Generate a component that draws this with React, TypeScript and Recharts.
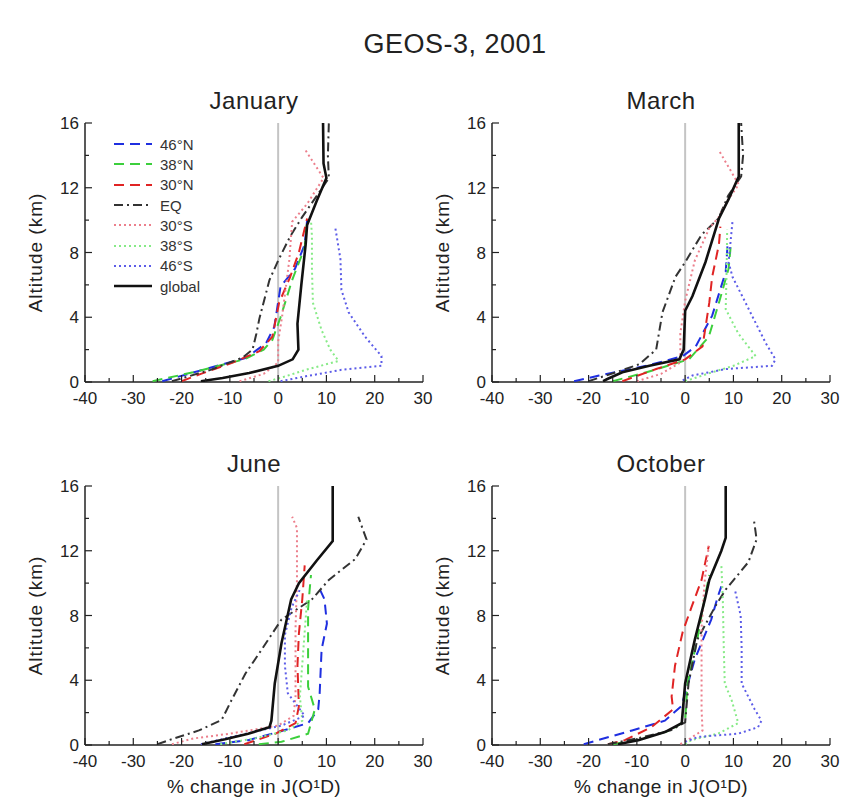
import React from 'react';
import { ScatterChart, Scatter, XAxis, YAxis, ReferenceLine, Legend } from 'recharts';

type Pt = [number, number]; // [% change, altitude km]

const xTicks = [-40, -35, -30, -25, -20, -15, -10, -5, 0, 5, 10, 15, 20, 25, 30];
const yTicks = [0, 2, 4, 6, 8, 10, 12, 14, 16];
const seriesNames = ['46°N', '38°N', '30°N', 'EQ', '30°S', '38°S', '46°S', 'global'];

// January
const jan46N: Pt[] = [[-24, 0.05], [-15.6, 0.75], [-6.6, 1.5], [-2.5, 2.4], [-0.8, 3.4], [0.5, 5.9], [3.5, 7], [5.5, 8.5], [6, 10]];
const jan38N: Pt[] = [[-26, 0.05], [-17.6, 0.6], [-7, 1.4], [-3, 2], [-1.2, 2.6], [0.5, 4], [2.9, 6.3], [5.5, 8.3], [6, 10]];
const jan30N: Pt[] = [[-20, 0.05], [-16, 0.5], [-9.4, 1.2], [-3.9, 1.9], [-1.2, 2.8], [0.2, 4.9], [2.5, 6.5], [4.3, 8], [6, 10.1]];
const janEQ: Pt[] = [[-22, 0.05], [-19.7, 0.25], [-14, 0.75], [-7.4, 1.5], [-5.3, 2], [-4.5, 3], [-3.9, 3.9], [-1.8, 6.3], [0, 7.5], [2.5, 9], [5, 10.2], [8, 11.5], [10.5, 12.6], [10.3, 14], [10.5, 16]];
const jan30S: Pt[] = [[-8, 0.05], [-3, 0.5], [0, 1.2], [0, 2.5], [0.8, 4], [2.3, 7.5], [2.9, 9.9], [6, 11], [9.4, 12.6], [5.7, 14.3]];
const jan38S: Pt[] = [[-2, 0.05], [1, 0.3], [5.7, 0.75], [12.5, 1.3], [10.8, 2], [9, 3.2], [7.2, 4.9], [7, 7], [7, 9], [6.8, 10]];
const jan46S: Pt[] = [[0.5, 0.05], [5.7, 0.35], [13.1, 0.75], [21.4, 1], [21.4, 1.6], [18, 2.8], [14.6, 4.3], [13.1, 5.7], [12.9, 7.6], [11.8, 9.6]];
const janGlobal: Pt[] = [[-16, 0.05], [-11.5, 0.25], [-6, 0.55], [0, 1], [3, 1.4], [4.2, 2], [4, 3.6], [4.8, 6], [5.7, 8.5], [6, 9.7], [8, 11.2], [10, 12.6], [9.4, 13.5], [9.3, 16]];

// March
const mar46N: Pt[] = [[-23, 0.05], [-17.8, 0.4], [-8, 1], [-0.5, 1.6], [2.2, 2.2], [5.6, 4.1], [8.4, 6.8], [8.8, 8.5]];
const mar38N: Pt[] = [[-15, 0.05], [-8, 0.6], [0.8, 1.4], [4.9, 2.8], [7, 4.9], [9, 7], [9.5, 8.6]];
const mar30N: Pt[] = [[-13, 0.05], [-6, 0.8], [0, 1.4], [3.6, 2.2], [5, 4.9], [5.6, 6.5], [7, 8.5], [7.3, 9.6]];
const marEQ: Pt[] = [[-20, 0.05], [-14.3, 0.6], [-9.5, 1.1], [-6, 2], [-4.7, 4.3], [-2, 6.5], [0, 7.4], [3.4, 9.1], [6.9, 10.1], [8.9, 11.5], [11.6, 12.7], [12, 14], [11.6, 16]];
const mar30S: Pt[] = [[-10, 0.05], [-5, 0.5], [-1, 1.2], [-1, 3], [0, 5], [2, 7.5], [5, 9.5], [7, 10.2], [9, 11.3], [11.1, 12.2], [7, 14.3]];
const mar38S: Pt[] = [[0, 0.05], [5.6, 0.6], [10, 1], [14.6, 1.6], [11, 3], [8.4, 4.5], [8.6, 7], [8.7, 9.4]];
const mar46S: Pt[] = [[-0.5, 0.1], [1.5, 0.4], [8.4, 0.8], [18, 1], [18.7, 1.4], [16.7, 2.4], [12.5, 4.9], [9.8, 6.5], [9, 7.4], [9.8, 9.9]];
const marGlobal: Pt[] = [[-17, 0.05], [-16, 0.2], [-13, 0.6], [-7.4, 1], [-1.2, 1.4], [-0.3, 2], [0, 4.4], [1.5, 5.3], [4.2, 7.4], [7, 10.1], [9, 11.3], [11.1, 12.7], [11.1, 16]];

// June
const jun46N: Pt[] = [[-13, 0.05], [-6.2, 0.3], [0, 0.8], [6.2, 1.35], [8.3, 2.2], [8.6, 3.2], [9, 5.9], [10.1, 7.5], [9.6, 9], [8.5, 9.7]];
const jun38N: Pt[] = [[-4, 0.05], [0.7, 0.2], [6.2, 0.7], [7.6, 2.2], [6.2, 3.6], [6.2, 5.9], [6.2, 8.4], [6.5, 9.5], [6.8, 10.5]];
const jun30N: Pt[] = [[-7, 0.05], [-0.5, 0.7], [3.6, 1.35], [4.3, 2.4], [4, 4.9], [4.3, 6.9], [5, 9], [5.5, 11.1]];
const junEQ: Pt[] = [[-25, 0.05], [-22.6, 0.3], [-16.4, 0.9], [-11.7, 1.55], [-9.6, 2.8], [-6.8, 4.4], [-3.4, 5.9], [0.7, 7.75], [7, 9], [10.5, 10.2], [16, 11.5], [18.3, 12.7], [16.6, 14.1]];
const jun30S: Pt[] = [[-22, 0.05], [-17.6, 0.4], [-10, 0.7], [0, 1.2], [3.2, 1.8], [3.6, 3], [3.6, 5], [3.6, 7.2], [3.9, 10.2], [3.9, 13.4], [2.9, 14.1]];
const jun38S: Pt[] = [[-12, 0.05], [-5, 0.4], [2, 0.9], [5, 1.5], [4.5, 3], [5, 5], [5.5, 7], [6, 9]];
const jun46S: Pt[] = [[-16, 0.05], [-9.6, 0.5], [0.7, 1.2], [5.5, 1.8], [2, 3.2], [1.4, 4.9], [1.4, 6.8], [2.8, 8.5], [4.5, 9.6]];
const junGlobal: Pt[] = [[-15.8, 0.05], [-11, 0.35], [-6.2, 0.7], [-1.8, 1.1], [-1.4, 1.5], [-0.7, 3.8], [0.7, 6.3], [2.7, 9], [4.3, 10], [8, 11.4], [11.3, 12.6], [11.3, 16]];

// October
const oct46N: Pt[] = [[-21, 0.05], [-11, 0.9], [-4.2, 1.5], [-0.8, 2.4], [0.6, 3.8], [2, 5.3], [5.4, 7.75], [6.8, 9.2], [7.5, 9.8]];
const oct38N: Pt[] = [[-15, 0.05], [-10, 0.3], [-3, 0.9], [0, 1.5], [0.5, 3.8], [2.5, 6.5], [4, 9], [5, 10.5]];
const oct30N: Pt[] = [[-16, 0.05], [-12.5, 0.3], [-7, 1.1], [-2.5, 2.2], [-2.8, 3], [-2.1, 4.9], [-0.5, 7], [1.3, 8.5], [3.4, 10.2], [4.9, 12.3]];
const octEQ: Pt[] = [[-16, 0.05], [-10, 0.4], [-3, 0.9], [0, 1.4], [0.7, 3.8], [2.5, 6.5], [6.3, 8.6], [8.4, 9.6], [13.1, 11.3], [14.8, 12.7], [14.2, 14]];
const oct30S: Pt[] = [[-1, 0.05], [1, 0.4], [3.6, 0.9], [3.4, 2.2], [3.4, 4.5], [3.4, 7.2], [4, 10], [4.9, 12.3]];
const oct38S: Pt[] = [[0, 0.05], [1.3, 0.3], [6.8, 0.7], [11, 1.35], [9.6, 2.8], [8.2, 3.8], [8, 6], [7.8, 9], [7.5, 11.1]];
const oct46S: Pt[] = [[0, 0.2], [2.7, 0.5], [11, 0.7], [15.1, 1.1], [15.8, 1.5], [14.4, 2.2], [11.7, 3.8], [11.7, 6], [11.5, 8], [10.3, 9.6]];
const octGlobal: Pt[] = [[-13.9, 0.05], [-9.7, 0.3], [-4.2, 0.8], [-0.7, 1.35], [0, 3.8], [2, 6.5], [4.1, 9], [5, 10.2], [7.5, 12], [8.4, 12.8], [8.4, 16]];

const styles = [
  { color: '#1f2fe0', dash: '10 6', width: 2 },
  { color: '#3ccf3c', dash: '10 6', width: 2 },
  { color: '#e02424', dash: '10 6', width: 2 },
  { color: '#333333', dash: '9 4 2 4', width: 2 },
  { color: '#ec7f8c', dash: '2 3', width: 2 },
  { color: '#86ea86', dash: '2 3', width: 2 },
  { color: '#5c5ce8', dash: '2 3', width: 2 },
  { color: '#111111', dash: undefined, width: 2.6 },
];

const AXIS = '#222';
const FONT = '"Liberation Sans", Arial, sans-serif';
const PLOT_W = 338;
const PLOT_H = 259;
const ML = 75;
const MT = 10;
const MR = 12;
const XH = 60;

const toPts = (a: Pt[]) => a.map(([x, y]) => ({ x, y }));

function BottomTick(p: any) {
  const v = p.payload.value;
  const major = v % 10 === 0;
  return (
    <g>
      <line x1={p.x} x2={p.x} y1={p.y} y2={p.y - (major ? 7 : 4)} stroke={AXIS} strokeWidth={1.2} />
      {major && (
        <text x={p.x} y={p.y + 22} textAnchor="middle" fontSize={17} fill="#222">{v}</text>
      )}
    </g>
  );
}

function TopTick(p: any) {
  const major = p.payload.value % 10 === 0;
  return <line x1={p.x} x2={p.x} y1={p.y} y2={p.y + (major ? 7 : 4)} stroke={AXIS} strokeWidth={1.2} />;
}

function LeftTick(p: any) {
  const v = p.payload.value;
  const major = v % 4 === 0;
  return (
    <g>
      <line x1={p.x} x2={p.x + (major ? 7 : 4)} y1={p.y} y2={p.y} stroke={AXIS} strokeWidth={1.2} />
      {major && (
        <text x={p.x - 6} y={p.y + 6} textAnchor="end" fontSize={17} fill="#222">{v}</text>
      )}
    </g>
  );
}

function RightTick(p: any) {
  const major = p.payload.value % 4 === 0;
  return <line x1={p.x} x2={p.x - (major ? 7 : 4)} y1={p.y} y2={p.y} stroke={AXIS} strokeWidth={1.2} />;
}

function LegendBox() {
  return (
    <div style={{ fontFamily: FONT, fontSize: 15, color: '#333' }}>
      {seriesNames.map((n, i) => (
        <div key={n} style={{ display: 'flex', alignItems: 'center', height: 20.3 }}>
          <svg width={40} height={10}>
            <line x1={1} x2={39} y1={5} y2={5} stroke={styles[i].color} strokeWidth={styles[i].width}
              strokeDasharray={styles[i].dash} />
          </svg>
          <span style={{ marginLeft: 7 }}>{n}</span>
        </div>
      ))}
    </div>
  );
}

function Panel({ title, series, plotLeft, plotTop, legend, xLabel }: {
  title: string; series: Pt[][]; plotLeft: number; plotTop: number; legend?: boolean; xLabel?: boolean;
}) {
  const axisLine = { stroke: AXIS, strokeWidth: 1.5 };
  return (
    <>
      <div style={{ position: 'absolute', left: plotLeft, top: plotTop - 36, width: PLOT_W, textAlign: 'center', fontSize: 24, letterSpacing: 0.5, color: '#222' }}>
        {title}
      </div>
      <div style={{ position: 'absolute', left: plotLeft - ML, top: plotTop - MT }}>
        <ScatterChart width={ML + PLOT_W + MR} height={MT + PLOT_H + XH} margin={{ top: MT, right: MR, left: 0, bottom: 0 }}>
          <XAxis xAxisId="b" type="number" dataKey="x" domain={[-40, 30]} ticks={xTicks} interval={0}
            allowDataOverflow tickLine={false} tickSize={0} tickMargin={0} height={XH} axisLine={axisLine}
            tick={(p: any) => <BottomTick {...p} />}
            label={xLabel ? { value: '% change in J(O¹D)', position: 'insideBottom', offset: 12, fontSize: 19, fill: '#222', style: { letterSpacing: 0.4 } } : undefined} />
          <XAxis xAxisId="t" orientation="top" type="number" domain={[-40, 30]} ticks={xTicks} interval={0}
            allowDataOverflow tickLine={false} tickSize={0} tickMargin={0} height={0} axisLine={axisLine}
            tick={(p: any) => <TopTick {...p} />} />
          <YAxis yAxisId="l" type="number" dataKey="y" domain={[0, 16]} ticks={yTicks} interval={0}
            allowDataOverflow tickLine={false} tickSize={0} tickMargin={0} width={ML} axisLine={axisLine}
            tick={(p: any) => <LeftTick {...p} />}
            label={{ value: 'Altitude (km)', angle: -90, position: 'insideLeft', offset: 25, fontSize: 19, fill: '#222', style: { textAnchor: 'middle', letterSpacing: 1 } }} />
          <YAxis yAxisId="r" orientation="right" type="number" domain={[0, 16]} ticks={yTicks} interval={0}
            allowDataOverflow tickLine={false} tickSize={0} tickMargin={0} width={0} axisLine={axisLine}
            tick={(p: any) => <RightTick {...p} />} />
          <ReferenceLine xAxisId="b" yAxisId="l" x={0} stroke="#c4c4c4" strokeWidth={2} />
          {series.map((d, i) => (
            <Scatter key={seriesNames[i]} name={seriesNames[i]} xAxisId="b" yAxisId="l" data={toPts(d)}
              fill="none" isAnimationActive={false} lineType="joint"
              line={{ stroke: styles[i].color, strokeWidth: styles[i].width, strokeDasharray: styles[i].dash }}
              shape={() => <g />} />
          ))}
          {legend && (
            <Legend layout="vertical" align="center" verticalAlign="middle" content={() => <LegendBox />}
              wrapperStyle={{ left: 103, top: 21, width: 120 }} />
          )}
        </ScatterChart>
      </div>
    </>
  );
}

export default function App() {
  return (
    <div style={{ position: 'absolute', left: 0, top: 0, width: 858, height: 803, background: '#fff', fontFamily: FONT }}>
      <div style={{ position: 'absolute', left: 0, top: 29, width: 910, textAlign: 'center', fontSize: 27, letterSpacing: 0.5, color: '#222' }}>
        GEOS-3, 2001
      </div>
      <Panel title="January" plotLeft={85} plotTop={123} legend
        series={[jan46N, jan38N, jan30N, janEQ, jan30S, jan38S, jan46S, janGlobal]} />
      <Panel title="March" plotLeft={492} plotTop={123}
        series={[mar46N, mar38N, mar30N, marEQ, mar30S, mar38S, mar46S, marGlobal]} />
      <Panel title="June" plotLeft={85} plotTop={486} xLabel
        series={[jun46N, jun38N, jun30N, junEQ, jun30S, jun38S, jun46S, junGlobal]} />
      <Panel title="October" plotLeft={492} plotTop={486} xLabel
        series={[oct46N, oct38N, oct30N, octEQ, oct30S, oct38S, oct46S, octGlobal]} />
    </div>
  );
}
